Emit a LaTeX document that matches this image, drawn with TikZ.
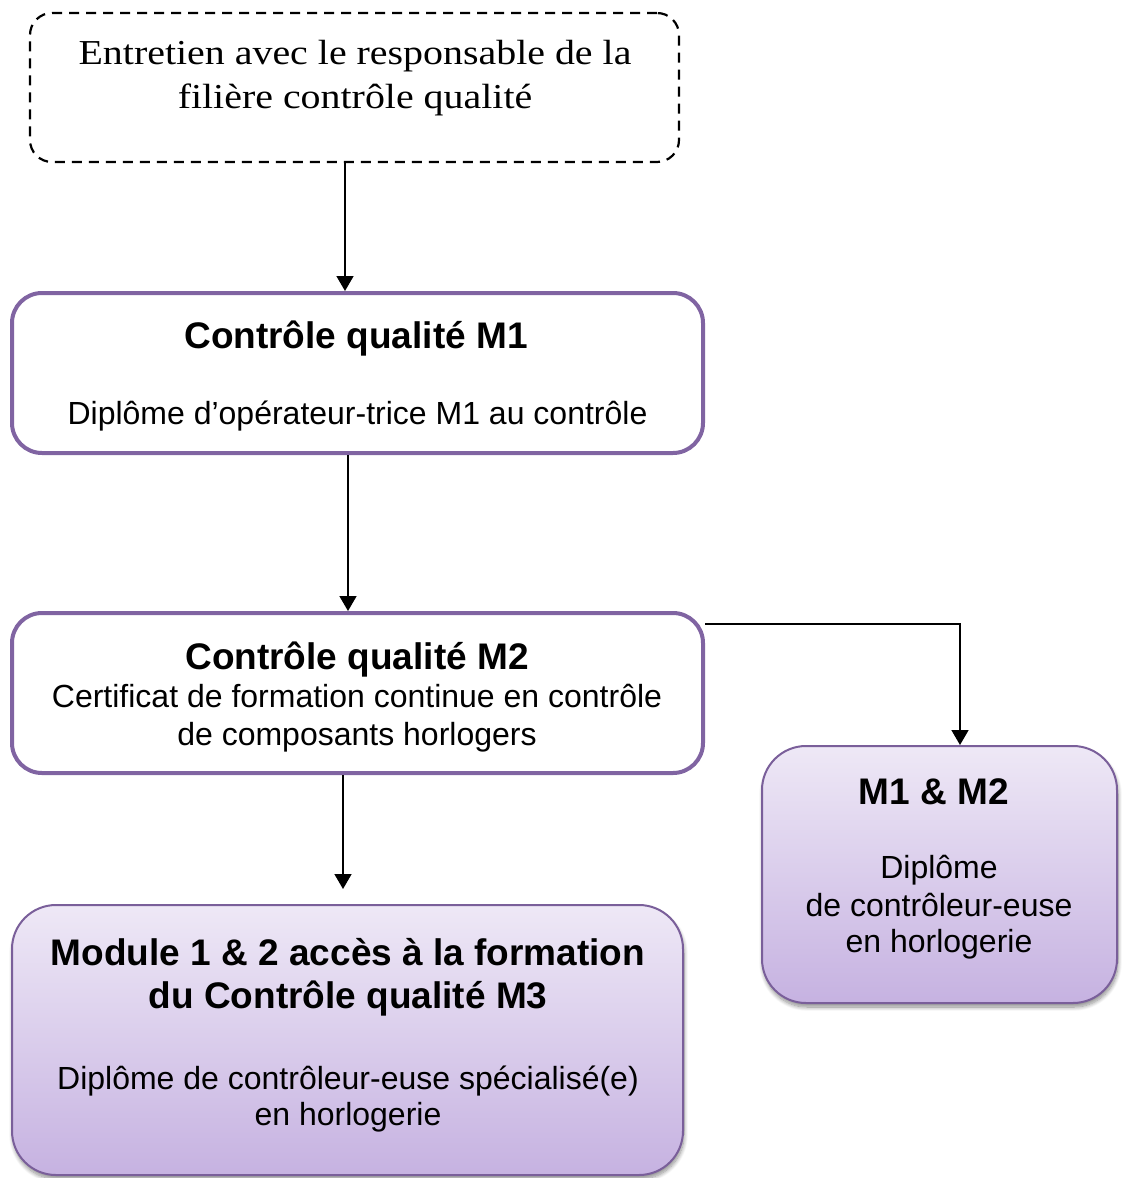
\documentclass[tikz,border=0pt]{standalone}
\usepackage{fontspec}
\setmainfont{Liberation Sans}
\newfontfamily\serifont[FakeStretch=1.14]{Liberation Serif}
\usetikzlibrary{arrows.meta,shadows.blur}
\definecolor{accent}{HTML}{8064A2}
\definecolor{lavtop}{HTML}{EEE8F6}
\definecolor{lavbot}{HTML}{C6B2E1}
\tikzset{
  dashbox/.style={draw=black, line width=2.2pt, dash pattern=on 10pt off 7pt, rounded corners=22pt, fill=white},
  plainbox/.style={draw=accent, line width=4pt, rounded corners=30pt, fill=white},
  gradbox/.style={draw=accent!95!black, line width=2pt, rounded corners=44pt, top color=lavtop, bottom color=lavbot,
    blur shadow={shadow xshift=1pt, shadow yshift=-4pt, shadow blur radius=4pt, shadow blur steps=10, shadow opacity=45}},
  arr/.style={draw=black, line width=1.6pt, -{Triangle[width=17pt,length=15pt]}},
  ser/.style={anchor=base, inner sep=0pt, font=\serifont\fontsize{35}{42}\selectfont},
  ttl/.style={anchor=base, inner sep=0pt, font=\bfseries\fontsize{37}{44}\selectfont},
  txt/.style={anchor=base, inner sep=0pt, font=\fontsize{32}{38}\selectfont},
}
\begin{document}
\begin{tikzpicture}[x=1pt,y=-1pt]
\useasboundingbox (0,0) rectangle (1122,1178);
% boxes
\node[dashbox, minimum width=649pt, minimum height=149pt] (top) at (354.5,87.5) {};
\node[plainbox, minimum width=691pt, minimum height=160pt] (m1) at (357.5,373) {};
\node[plainbox, minimum width=691pt, minimum height=160pt] (m2) at (357.5,693) {};
\node[gradbox, minimum width=355pt, minimum height=257pt] (m12) at (939.5,874.5) {};
\node[gradbox, minimum width=671pt, minimum height=270pt] (m3) at (347.5,1040) {};
% texts
\node[ser] (t1) at (355,64) {Entretien avec le responsable de la};
\node[ser] (t2) at (355,108) {filière contrôle qualité};
\node[ttl] (m1a) at (356,348) {Contrôle qualité M1};
\node[txt] (m1b) at (357.5,424) {Diplôme d’opérateur-trice M1 au contrôle};
\node[ttl] (m2a) at (357,669) {Contrôle qualité M2};
\node[txt] (m2b) at (357,707) {Certificat de formation continue en contrôle};
\node[txt] (m2c) at (357,745) {de composants horlogers};
\node[ttl] (m12a) at (934,804) {M1 \& M2};
\node[txt] (m12b) at (939,878) {Diplôme};
\node[txt] (m12c) at (939,916) {de contrôleur-euse};
\node[txt] (m12d) at (939,952) {en horlogerie};
\node[ttl] (m3a) at (348,965) {Module 1 \& 2 accès à la formation};
\node[ttl] (m3b) at (348,1008) {du Contrôle qualité M3};
\node[txt] (m3c) at (348,1089) {Diplôme de contrôleur-euse spécialisé(e)};
\node[txt] (m3d) at (348,1125) {en horlogerie};
% connectors
\coordinate (a4) at ([xshift=-4.5pt,yshift=15pt]m3.north);
\draw[arr] ([xshift=-9.5pt]top.south) -- ([xshift=-9.5pt]top.south |- m1.north);
\draw[arr] ([xshift=-9.5pt]m1.south) -- ([xshift=-9.5pt]m1.south |- m2.north);
\draw[arr] ([yshift=-13pt]m2.north east) -| ([xshift=20.5pt]m12.north);
\draw[arr] (a4 |- m2.south) -- (a4);
\end{tikzpicture}
\end{document}
